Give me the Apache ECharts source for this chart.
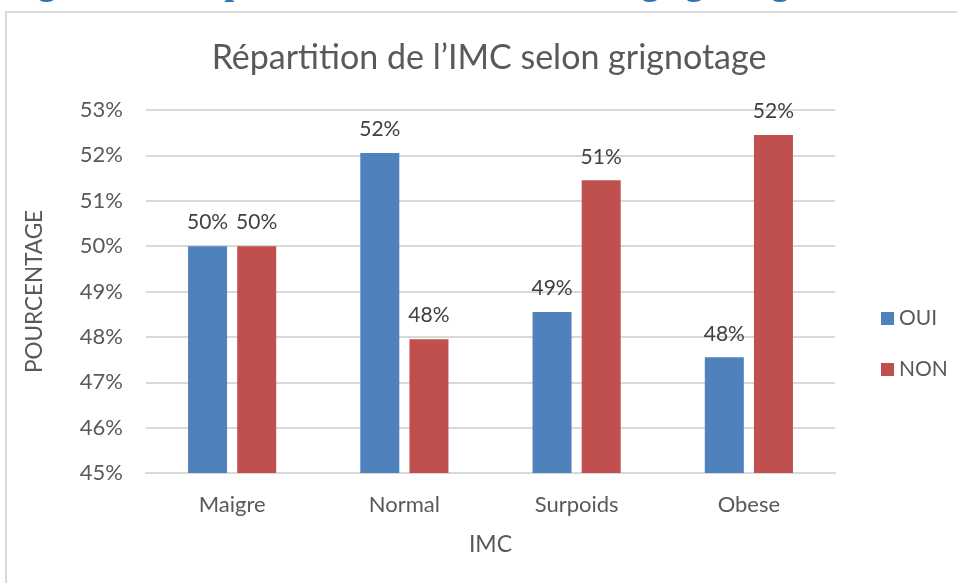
<!DOCTYPE html>
<html>
<head>
<meta charset="utf-8">
<script src="https://cdn.jsdelivr.net/npm/echarts@6/dist/echarts.min.js"></script>
<style>
html,body{margin:0;padding:0;background:#fff;}
#chart{width:957px;height:583px;}
</style>
</head>
<body>
<div id="chart"></div>
<script>
const categories = ['Maigre', 'Normal', 'Surpoids', 'Obese'];
const seriesNames = ['OUI', 'NON'];
const ouiValues = [50.0, 52.05, 48.55, 47.55];
const nonValues = [50.0, 47.95, 51.45, 52.45];
const yTicks = [45, 46, 47, 48, 49, 50, 51, 52, 53];

const FONT = 'Lato';
const chart = echarts.init(document.getElementById('chart'));
const labelCfg = {
  show: true, position: 'top', distance: 13,
  fontFamily: FONT, fontSize: 21, color: '#404040',
  formatter: p => Math.round(p.value) + '%'
};
chart.setOption({
  animation: false,
  backgroundColor: '#fff',
  title: {
    text: 'Répartition de l\u2019IMC selon grignotage',
    left: 484, top: 36, textAlign: 'center',
    textStyle: { fontFamily: FONT, fontSize: 34, fontWeight: 'normal', color: '#595959' }
  },
  graphic: [
    { type: 'rect', shape: { x: 6, y: 12, width: 1000, height: 700 },
      style: { fill: 'none', stroke: '#d9d9d9', lineWidth: 2 }, silent: true },
    { type: 'text', x: 6, y: 3,
      style: { text: 'Figure 12 : Répartition de l\u2019IMC selon le grignotage',
        font: 'bold 36px "Liberation Serif"', fill: '#2E74B5',
        verticalAlign: 'bottom', align: 'left' } }
  ],
  legend: {
    orient: 'vertical', left: 876, top: 303, itemWidth: 13, itemHeight: 13,
    itemGap: 30, icon: 'rect',
    textStyle: { fontFamily: FONT, fontSize: 21, color: '#595959' },
    data: seriesNames
  },
  grid: { left: 146, right: 122, top: 110, bottom: 110 },
  xAxis: {
    type: 'category', data: categories,
    name: 'IMC', nameLocation: 'middle', nameGap: 60,
    nameTextStyle: { fontFamily: FONT, fontSize: 23, color: '#595959' },
    axisLine: { lineStyle: { color: '#d9d9d9', width: 2 } },
    axisTick: { show: false },
    axisLabel: { margin: 21, fontFamily: FONT, fontSize: 22, color: '#595959' }
  },
  yAxis: {
    type: 'value', min: yTicks[0], max: yTicks[yTicks.length - 1], interval: 1,
    name: 'POURCENTAGE', nameLocation: 'middle', nameGap: 100,
    nameTextStyle: { fontFamily: FONT, fontSize: 22.5, color: '#595959' },
    axisLine: { show: false }, axisTick: { show: false },
    axisLabel: { margin: 23, fontFamily: FONT, fontSize: 22, color: '#595959',
      formatter: v => v + '%' },
    splitLine: { lineStyle: { color: '#d9d9d9', width: 2 } }
  },
  series: [
    { name: seriesNames[0], type: 'bar', data: ouiValues, barWidth: 39, barGap: '26%',
      itemStyle: { color: '#4F81BD' }, label: labelCfg },
    { name: seriesNames[1], type: 'bar', data: nonValues, barWidth: 39,
      itemStyle: { color: '#C0504D' }, label: labelCfg }
  ]
});
</script>
</body>
</html>
